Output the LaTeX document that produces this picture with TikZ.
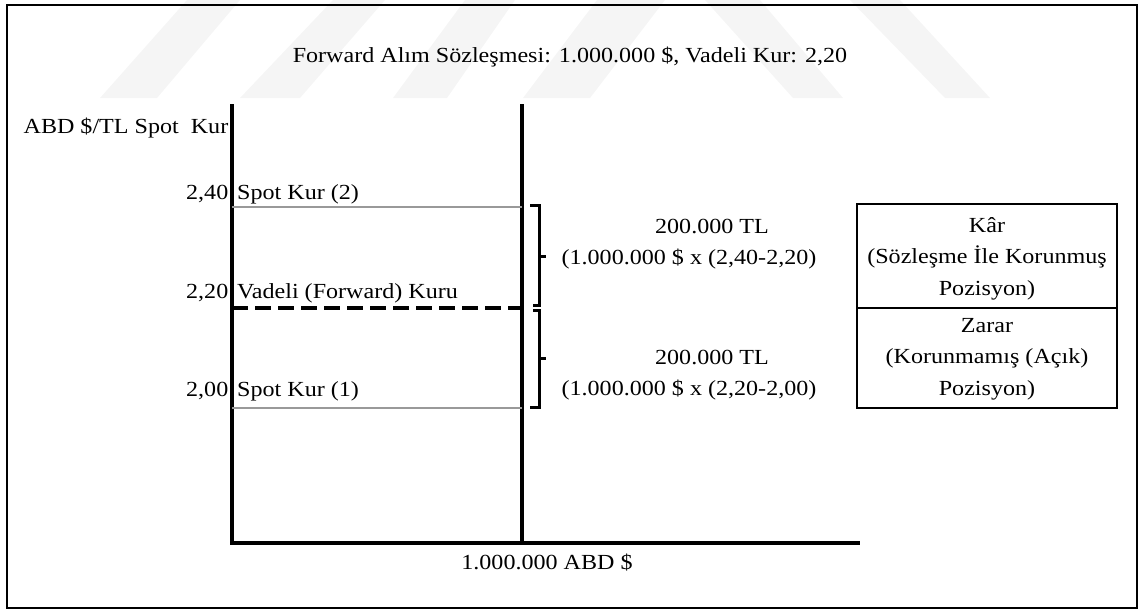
\documentclass[tikz,border=0pt]{standalone}
\usepackage{fontspec}
\setmainfont{Liberation Serif}[FakeStretch=1.12]
\begin{document}
\begin{tikzpicture}[x=1pt,y=-1pt,
  txt/.style={font=\fontsize{21.5}{31.5}\selectfont, inner sep=0pt},
  axisline/.style={line width=3.8pt},
  gridline/.style={draw=black!40, line width=1.8pt},
  fwdline/.style={line width=3.8pt, dash pattern=on 16pt off 7pt},
  bracket/.style={line width=3pt},
  resultbox/.style={draw, line width=2.3pt, minimum width=260pt, align=center, inner sep=0pt, font=\fontsize{21.5}{31.5}\selectfont},
  frameline/.style={line width=2.5pt},
  wmark/.style={fill=black!4, draw=none}]
\useasboundingbox (0,0) rectangle (1140,611);
% watermark
\fill[wmark] (100,98) -- (157,98) -- (240,0) -- (187,0) -- cycle;
\fill[wmark] (240,98) -- (300,98) -- (385,0) -- (333,0) -- cycle;
\fill[wmark] (393,98) -- (447,98) -- (515,0) -- (465,0) -- cycle;
\fill[wmark] (523,98) -- (590,98) -- (665,0) -- (597,0) -- cycle;
\fill[wmark] (705,0) -- (760,0) -- (843,98) -- (793,98) -- cycle;
\fill[wmark] (850,0) -- (900,0) -- (990,98) -- (945,98) -- cycle;
% frame
\draw[frameline] (7,5) rectangle (1137,608);
% axes
\coordinate (ytop) at (232,104);
\coordinate (O) at (232,543);
\coordinate (xend) at (860,543);
\coordinate (mtop) at (522,104);
\coordinate (mbot) at (522,543);
\draw[axisline] (ytop) -- (O) -- (xend);
\draw[axisline] (mtop) -- (mbot);
% level lines
\coordinate (g2a) at (232,207); \coordinate (g2b) at (522,207);
\coordinate (fa) at (232,308);  \coordinate (fb) at (531,308);
\coordinate (g1a) at (232,408); \coordinate (g1b) at (522,408);
\draw[gridline] (g2a) -- (g2b);
\draw[gridline] (g1a) -- (g1b);
\draw[fwdline] (fa) -- (fb);
% brackets
\draw[bracket] (530,205) -- (539,205) -- (539,305) -- (533,305);
\draw[bracket] (539,256) -- (546,256);
\draw[bracket] (533,310) -- (539,310) -- (539,407) -- (530,407);
\draw[bracket] (539,358) -- (546,358);
% texts
\node[txt, anchor=base] (title) at (570,62) {Forward Alım Sözleşmesi: 1.000.000 \$, Vadeli Kur: 2,20};
\node[txt, anchor=base east] (ylab) at (228.5,133) {ABD \$/TL Spot~~Kur};
\node[txt, anchor=base east] (v240) at (228.5,199) {2,40};
\node[txt, anchor=base west] (s2) at (237,199) {Spot Kur (2)};
\node[txt, anchor=base east] (v220) at (228.5,298) {2,20};
\node[txt, anchor=base west] (fwd) at (237,298) {Vadeli (Forward) Kuru};
\node[txt, anchor=base east] (v200) at (228.5,396) {2,00};
\node[txt, anchor=base west] (s1) at (237,396) {Spot Kur (1)};
\node[txt, anchor=base] (p1a) at (712,233) {200.000 TL};
\node[txt, anchor=base] (p1b) at (689,264) {(1.000.000 \$ x (2,40-2,20)};
\node[txt, anchor=base] (p2a) at (712,364) {200.000 TL};
\node[txt, anchor=base] (p2b) at (689,395) {(1.000.000 \$ x (2,20-2,00)};
\node[txt, anchor=base] (xlab) at (547,569) {1.000.000 ABD \$};
% boxes
\node[resultbox, minimum height=104pt] (kar) at (987,256) {\rule{0pt}{20pt}Kâr\\(Sözleşme İle Korunmuş\\Pozisyon)};
\node[resultbox, minimum height=100pt] (zarar) at (987,358) {\rule{0pt}{16pt}Zarar\\(Korunmamış (Açık)\\Pozisyon)};
\end{tikzpicture}
\end{document}
